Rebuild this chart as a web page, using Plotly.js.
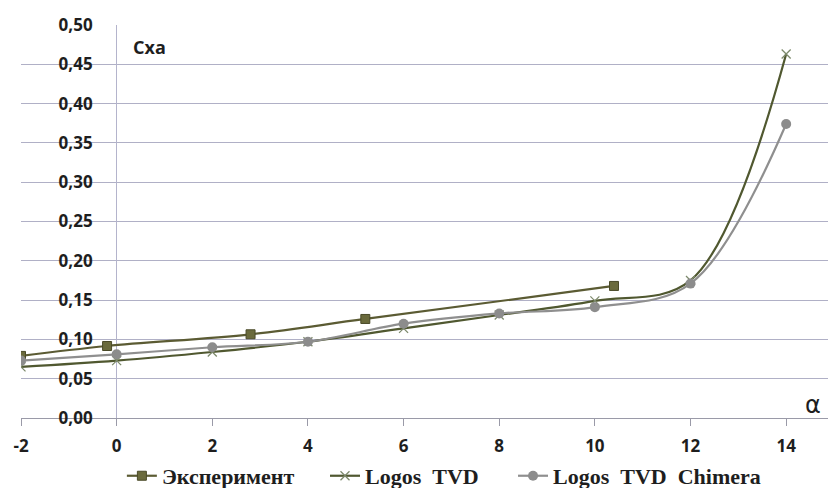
<!DOCTYPE html>
<html>
<head>
<meta charset="utf-8">
<script src="https://cdn.plot.ly/plotly-3.0.1.min.js"></script>
<style>html,body{margin:0;padding:0;background:#fff;}#chart{width:828px;height:488px;}</style>
</head>
<body>
<div id="chart"></div>
<script>
// Data
const expAlpha = [-2, -0.2, 2.8, 5.2, 10.4];
const expCxa   = [0.079, 0.0916, 0.1065, 0.126, 0.168];

const tvdAlpha = [-2, 0, 2, 4, 6, 8, 10, 12, 14];
const tvdCxa   = [0.065, 0.073, 0.084, 0.097, 0.114, 0.131, 0.149, 0.175, 0.463];

const chimAlpha = [-2, 0, 2, 4, 6, 8, 10, 12, 14];
const chimCxa   = [0.073, 0.081, 0.090, 0.097, 0.120, 0.133, 0.141, 0.171, 0.374];

const seriesNames = ['Эксперимент', 'Logos\u00a0\u00a0TVD', 'Logos\u00a0\u00a0TVD\u00a0\u00a0Chimera'];

const xTickVals = [-2, 0, 2, 4, 6, 8, 10, 12, 14];
const xTickText = ['-2', '0', '2', '4', '6', '8', '10', '12', '14'];
const yTickVals = [0, 0.05, 0.10, 0.15, 0.20, 0.25, 0.30, 0.35, 0.40, 0.45, 0.50];
const yTickText = ['0,00', '0,05', '0,10', '0,15', '0,20', '0,25', '0,30', '0,35', '0,40', '0,45', '0,50'];

const traces = [
  {
    x: expAlpha, y: expCxa, name: seriesNames[0], type: 'scatter', mode: 'lines+markers', legend: 'legend',
    line: {color: '#5b5b33', width: 2.2, shape: 'spline', smoothing: 1},
    marker: {symbol: 'square', size: 9, color: '#6a6a3c', line: {color: '#4a4a28', width: 1}}
  },
  {
    x: tvdAlpha, y: tvdCxa, name: seriesNames[1], type: 'scatter', mode: 'lines+markers', legend: 'legend2',
    line: {color: '#505830', width: 2.2, shape: 'spline', smoothing: 1},
    marker: {symbol: 'x-thin', size: 9, color: '#7d8a6c', line: {color: '#7d8a6c', width: 1.3}}
  },
  {
    x: chimAlpha, y: chimCxa, name: seriesNames[2], type: 'scatter', mode: 'lines+markers', legend: 'legend3',
    line: {color: '#8f8f8f', width: 2.2, shape: 'spline', smoothing: 1},
    marker: {symbol: 'circle', size: 10, color: '#8c8c8c'}
  }
];

const tickFont = {family: '"Open Sans", "DejaVu Sans", sans-serif', size: 17, color: '#1e1e1e', weight: 700};
const legendFont = {family: '"Liberation Serif", "Times New Roman", serif', size: 22, color: '#1e1e1e', weight: 700};
function legendAt(xp) {
  return {orientation: 'h', x: xp, xanchor: 'left', y: -0.094, yanchor: 'top',
          font: legendFont, bgcolor: 'rgba(0,0,0,0)'};
}

const layout = {
  width: 828, height: 488,
  margin: {l: 21, r: 0, t: 25, b: 70, autoexpand: false},
  paper_bgcolor: '#ffffff', plot_bgcolor: '#ffffff',
  showlegend: true,
  legend: legendAt(0.125),
  legend2: legendAt(0.3767),
  legend3: legendAt(0.6097),
  xaxis: {
    range: [-2, 14.875], fixedrange: true,
    tickvals: xTickVals, ticktext: xTickText,
    ticks: 'outside', ticklen: 7, tickcolor: '#9a9aa8', tickwidth: 1,
    showline: true, linecolor: '#9a9aa8', linewidth: 1,
    showgrid: false,
    zeroline: true, zerolinecolor: '#b4b4cc', zerolinewidth: 1,
    tickfont: tickFont, ticklabelstandoff: 6, automargin: false
  },
  yaxis: {
    range: [0, 0.5], fixedrange: true,
    anchor: 'free', position: 0.1185,
    tickvals: yTickVals, ticktext: yTickText,
    ticks: '', showline: false, zeroline: false,
    showgrid: true, gridcolor: '#b0b0c6', gridwidth: 1,
    tickfont: tickFont, ticklabelstandoff: 24, automargin: false
  },
  annotations: [
    {xref: 'paper', yref: 'paper', x: 0.159, y: 0.944, xanchor: 'center', yanchor: 'middle',
     text: 'Cxa', showarrow: false,
     font: {family: '"Open Sans", sans-serif', size: 18, color: '#1e1e1e', weight: 700}},
    {xref: 'paper', yref: 'paper', x: 0.981, y: 0.033, xanchor: 'center', yanchor: 'middle',
     text: 'α', showarrow: false,
     font: {family: '"DejaVu Sans", sans-serif', size: 24, color: '#1e1e1e'}}
  ]
};

Plotly.newPlot('chart', traces, layout, {displayModeBar: false, staticPlot: true});
</script>
</body>
</html>
